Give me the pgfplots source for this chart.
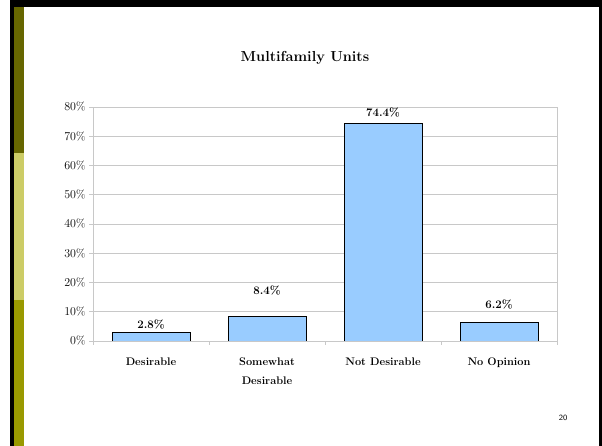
\documentclass[border=0pt]{standalone}
\usepackage{pgfplots}
\pgfplotsset{compat=1.18}
\definecolor{barblue}{HTML}{99CCFF}
\definecolor{olivedark}{HTML}{666600}
\definecolor{olivelight}{HTML}{CCCC66}
\definecolor{olivemid}{HTML}{999900}
\definecolor{gridgray}{HTML}{C8C8C8}

\begin{document}
\begin{tikzpicture}
  % slide frame
  \path[use as bounding box] (0pt,0pt) rectangle (602pt,446pt);
  \fill[white] (0pt,0pt) rectangle (602pt,446pt);
  \fill[black] (10pt,439pt) rectangle (602pt,446pt);
  \fill[black] (10pt,0pt) rectangle (13.5pt,446pt);
  \fill[black] (599pt,0pt) rectangle (602pt,446pt);
  \fill[olivedark] (13.5pt,293pt) rectangle (24pt,439pt);
  \fill[olivelight] (13.5pt,146pt) rectangle (24pt,293pt);
  \fill[olivemid] (13.5pt,0pt) rectangle (24pt,146pt);

  \node[font=\bfseries\fontsize{14.5}{17}\selectfont] at (305pt,388pt) {Multifamily Units};
  \node[font=\sffamily\fontsize{8}{9}\selectfont] at (563pt,28pt) {20};

  \begin{axis}[
    at={(93pt,105pt)}, anchor=south west,
    scale only axis,
    width=464pt, height=234pt,
    xmin=-0.5, xmax=3.5,
    ymin=0, ymax=80,
    ytick={0,10,...,80},
    yticklabel={\pgfmathprintnumber{\tick}\%},
    xtick={0,1,2,3},
    xticklabels={Desirable, Somewhat\\Desirable, Not Desirable, No Opinion},
    minor xtick={-0.5,0.5,1.5,2.5,3.5},
    major x tick style={draw=none},
    xtick pos=bottom, ytick pos=left,
    tick align=outside,
    major tick length=4pt, minor tick length=4pt,
    tick style={gridgray, line width=0.8pt},
    axis line style={gridgray, line width=0.8pt},
    ymajorgrids,
    grid style={gridgray, line width=0.8pt},
    xticklabel style={align=center, font=\bfseries\fontsize{11}{19}\selectfont, yshift=-9pt},
    yticklabel style={font=\fontsize{11.5}{13}\selectfont},
    ybar, bar width=78pt,
  ]
    \addplot[fill=barblue, draw=black, line width=0.8pt] coordinates {
      (0, 2.8)
      (1, 8.4)
      (2, 74.4)
      (3, 6.2)
    };
    \node[font=\bfseries\fontsize{11.5}{13}\selectfont] at (axis cs:0,5.8) {2.8\%};
    \node[font=\bfseries\fontsize{11.5}{13}\selectfont] at (axis cs:1,17.1) {8.4\%};
    \node[font=\bfseries\fontsize{11.5}{13}\selectfont] at (axis cs:2,78.0) {74.4\%};
    \node[font=\bfseries\fontsize{11.5}{13}\selectfont] at (axis cs:3,12.6) {6.2\%};
  \end{axis}
\end{tikzpicture}
\end{document}
